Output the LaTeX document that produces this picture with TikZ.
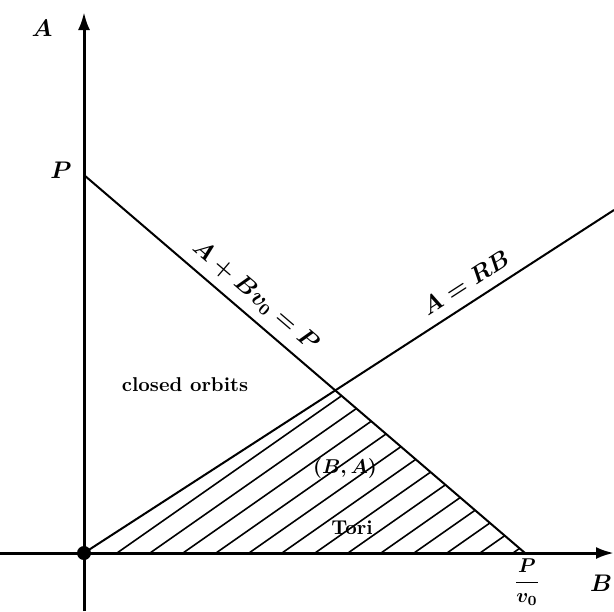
\documentclass[tikz,border=0pt]{standalone}
\usepackage{amsmath, amssymb}
\usetikzlibrary{arrows.meta, positioning, calc}

\begin{document}
\begin{tikzpicture}[
        x=0.5pt, y=-0.5pt,
        font=\bfseries\boldmath,
        axis/.style={line width=1.5pt, -{Latex[length=9pt, width=6pt]}},
        border/.style={line width=1pt},
        hatch/.style={line width=0.8pt},
        big/.style={font=\large\bfseries\boldmath}
      ]

      \useasboundingbox (0,0) rectangle (614,611);

      % ==================== POINTS ====================

      \coordinate (O)      at (84,553);
      \coordinate (Atop)   at (84,12);
      \coordinate (Abot)   at (84,611);
      \coordinate (Bleft)  at (0,553);
      \coordinate (Bright) at (614,553);
      \coordinate (Pa)     at (84,175);
      \coordinate (Pb)     at (525,553);
      \coordinate (Rend)   at (614,210);
      \coordinate (X) at (intersection of Pa--Pb and O--Rend);

      % ==================== HATCHED REGION (TORI) ====================

      \begin{scope}
        \clip (O) -- (X) -- (Pb) -- cycle;
        \foreach \k in {1,...,14} {
          \draw[hatch] ($(O)+(33*\k,0)$) -- ++(500,-350);
        }
      \end{scope}

      % ==================== AXES ====================

      \draw[axis] (Abot) -- (Atop);
      \draw[axis] (Bleft) -- (Bright);
      \fill (O) circle (7);

      % ==================== LINES ====================

      \draw[border] (Pa) -- node[big, pos=0.36, sloped, above=1pt] {$A + Bv_0 = P$} (Pb);
      \draw[border] (O) -- node[big, pos=0.74, sloped, above=2pt] {$A = RB$} (Rend);

      % ==================== LABELS ====================

      \node[big] (Alabel) at (42,28) {$A$};
      \node[big] (Plabel) at (61,170) {$P$};
      \node[big] (Blabel) at (601,583) {$B$};
      \node (Pv) at (527,582) {$\dfrac{P}{v_0}$};
      \node (closed) at (185,385) {closed orbits};
      \node (BA) at (345,468) {$(B,A)$};
      \node (Tori) at (352,528) {Tori};

    \end{tikzpicture}
\end{document}
